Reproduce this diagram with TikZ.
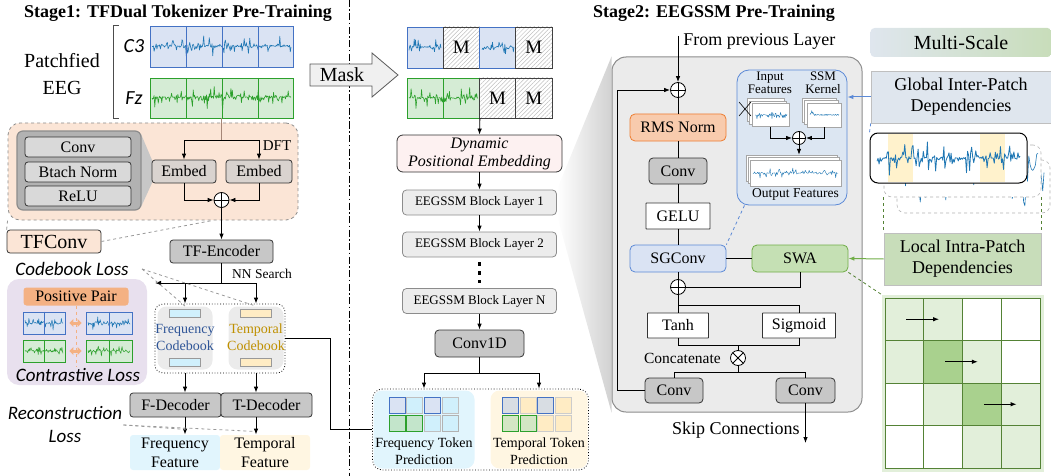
\documentclass[tikz,border=0pt]{standalone}
\usepackage{fontspec}
\setmainfont{Liberation Serif}
\setsansfont{Carlito}
\usetikzlibrary{arrows.meta, positioning, patterns.meta, calc, backgrounds}

\definecolor{sigblue}{RGB}{31,119,180}
\definecolor{siggreen}{RGB}{44,160,44}
\definecolor{chfill}{RGB}{218,227,243}
\definecolor{chline}{RGB}{68,114,196}
\definecolor{fzfill}{RGB}{213,236,213}
\definecolor{fzline}{RGB}{44,160,44}
\definecolor{peach}{RGB}{251,229,214}
\definecolor{lavender}{RGB}{232,224,238}
\definecolor{pairorange}{RGB}{244,177,131}
\definecolor{embedfill}{RGB}{217,211,207}
\definecolor{cbcyan}{RGB}{208,240,252}
\definecolor{cbtext}{RGB}{47,85,151}
\definecolor{cbgold}{RGB}{191,144,0}
\definecolor{cbyellow}{RGB}{255,236,196}
\definecolor{featcyan}{RGB}{225,245,253}
\definecolor{featyellow}{RGB}{255,246,226}
\definecolor{pefill}{RGB}{253,241,241}
\definecolor{layerfill}{RGB}{236,236,236}
\definecolor{panelfill}{RGB}{235,235,235}
\definecolor{rmsfill}{RGB}{248,203,173}
\definecolor{rmsline}{RGB}{237,125,49}
\definecolor{sgline}{RGB}{91,137,214}
\definecolor{swafill}{RGB}{197,224,180}
\definecolor{swaline}{RGB}{112,173,71}
\definecolor{ssmfill}{RGB}{220,230,242}
\definecolor{globalfill}{RGB}{223,230,238}
\definecolor{localfill}{RGB}{200,221,186}
\definecolor{cellpale}{RGB}{226,239,218}
\definecolor{cellmid}{RGB}{169,209,142}
\definecolor{cellline}{RGB}{84,130,53}
\definecolor{hilite}{RGB}{255,242,204}
\definecolor{dftline}{RGB}{165,135,120}
\definecolor{greencell}{RGB}{195,229,203}
\definecolor{graycell}{RGB}{216,221,227}
\definecolor{tgreen}{RGB}{211,230,196}

% noisy EEG trace: style, x from, x to, centre line, amplitude, samples
\newcommand{\eegtrace}[6]{%
  \draw[line width=0.6pt, line join=round, #1]
    plot[domain=#2:#3, samples=#6] (\x, {#4 + #5*rand*abs(rand*rand)});}

\begin{document}
\begin{tikzpicture}[
    x=1pt, y=-1pt,
    line width=0.8pt,
    >={Latex[length=6pt, width=4.5pt]},
    every node/.style={inner sep=1pt, align=center},
    box/.style={
      rectangle,
      draw=black!80,
      rounded corners=3pt,
      font=\fontsize{16}{19}\selectfont
    },
    graybox/.style={box, fill=black!22},
    layerbox/.style={box, draw=black!45, fill=layerfill, rounded corners=4pt,
      minimum width=154pt, minimum height=25pt, font=\fontsize{13}{15}\selectfont},
    patch/.style={rectangle, draw, inner sep=0pt},
    masked/.style={patch, draw=black!75, minimum width=36.25pt,
      pattern={Lines[angle=45, distance=3pt, line width=0.5pt]}, pattern color=black!25,
      font=\fontsize{19}{19}\selectfont},
    page/.style={draw=black!35, fill=white, line width=0.5pt, inner sep=0pt},
    oplus/.style={circle, draw, fill=white, minimum size=15pt, inner sep=0pt,
      path picture={\draw ([yshift=-8pt]path picture bounding box.center) -- ([yshift=8pt]path picture bounding box.center)
        ([xshift=-8pt]path picture bounding box.center) -- ([xshift=8pt]path picture bounding box.center);}},
    otimes/.style={circle, draw, fill=white, minimum size=15pt, inner sep=0pt,
      path picture={\draw ([shift={(-6pt,-6pt)}]path picture bounding box.center) -- ([shift={(6pt,6pt)}]path picture bounding box.center)
        ([shift={(-6pt,6pt)}]path picture bounding box.center) -- ([shift={(6pt,-6pt)}]path picture bounding box.center);}},
    losstext/.style={font=\sffamily\itshape\fontsize{19}{23}\selectfont},
    title/.style={font=\bfseries\fontsize{18}{20}\selectfont}
  ]
    \useasboundingbox (0,0) rectangle (1051,476);
    \pgfmathsetseed{42}

    % Titles and stage divider
    \node[title] (stageone) at (178,13) {Stage1: TFDual Tokenizer Pre-Training};
    \node[title] (stagetwo) at (714,13) {Stage2: EEGSSM Pre-Training};
    \draw[dash pattern=on 7pt off 2.5pt on 1.5pt off 2.5pt] (349,0) -- (349,476);

    % ---------------- Stage 1 ----------------
    % Patchfied input channels
    \node[font=\fontsize{20}{27}\selectfont] (peeg) at (62,74) {Patchfied\\EEG};
    \draw[black!70] (119,25) -- (113,25) -- (113,118) -- (119,118);
    \node[font=\sffamily\itshape\fontsize{20}{20}\selectfont] (lblc3) at (134,46) {C3};
    \node[font=\sffamily\itshape\fontsize{20}{20}\selectfont] (lblfz) at (134,98) {Fz};
    \node[patch, draw=chline, fill=chfill, minimum width=143pt, minimum height=41pt] (c3) at (221.5,46.5) {};
    \node[patch, draw=fzline, fill=fzfill, minimum width=143pt, minimum height=40pt] (fz) at (221.5,98) {};
    \eegtrace{sigblue}{152}{291}{46}{15}{200}
    \eegtrace{siggreen}{152}{291}{97}{15}{200}
    \foreach \px in {186,222,258} {
      \draw[chline] (\px,26) -- (\px,67);
      \draw[fzline] (\px,78) -- (\px,118);
    }

    % TFConv block
    \node[draw=black!45, dashed, fill=peach, rounded corners=12pt, minimum width=290pt, minimum height=97pt] (tfconvbg) at (153,171.5) {};
    \fill[black!22] (141,134) -- (152,160) -- (152,183) -- (141,207) -- cycle;
    \node[draw=black!45, fill=black!30, line width=1.2pt, rounded corners=6pt, minimum width=124pt, minimum height=79pt] (convstack) at (79,170.5) {};
    \node[box, fill=black!15, minimum width=106pt, minimum height=20pt] (cvconv) at (78,147) {Conv};
    \node[box, fill=black!15, minimum width=106pt, minimum height=20pt] (cvbn) at (78,172) {Btach Norm};
    \node[box, fill=black!15, minimum width=106pt, minimum height=20pt] (cvrelu) at (78,196) {ReLU};

    \node[box, fill=embedfill, minimum width=64pt, minimum height=23pt] (embt) at (184,171.5) {Embed};
    \node[box, fill=embedfill, minimum width=66pt, minimum height=23pt] (embf) at (259,171.5) {Embed};
    \coordinate (dftsplit) at (221.5,140);
    \draw[dftline] (fz.south) -- (dftsplit);
    \draw[->] (dftsplit) -| (embt.north);
    \draw[->] (dftsplit) -| (embf.north);
    \node[font=\fontsize{15}{15}\selectfont] (dft) at (277,146) {DFT};
    \node[oplus] (embsum) at (221.5,200) {};
    \draw[->] (embt.south) |- (embsum.west);
    \draw[->] (embf.south) |- (embsum.east);

    % Encoder
    \node[graybox, minimum width=103pt, minimum height=23pt] (tfenc) at (221.5,251.5) {TF-Encoder};
    \draw[->] (embsum.south) -- (tfenc.north);
    \node[box, fill=peach, font=\fontsize{20}{20}\selectfont, minimum width=94pt, minimum height=23pt] (tfconv) at (54,241.5) {TFConv};
    \draw[dashed, black!40] (tfconv.north west) -- (tfconvbg.south west);
    \draw[dashed, black!40] (tfconv.east) -- ($(tfconvbg.south)+(60,0)$);

    % Codebooks
    \coordinate (nnsplit) at (221.5,283);
    \coordinate (cblosstip) at (155,283);
    \draw (tfenc.south) -- (nnsplit);
    \draw[->] (nnsplit) -- (cblosstip);
    \node[font=\fontsize{13.5}{14}\selectfont] (nnsearch) at (262,274) {NN Search};
    \node[losstext] (cbloss) at (72,269) {Codebook Loss};

    \node[draw, dotted, rounded corners=8pt, minimum width=130pt, minimum height=69pt] (cbframe) at (220,338.5) {};
    \node[fill=black!8, rounded corners=9pt, minimum width=55pt, minimum height=63pt] (freqcb) at (185,338) {};
    \node[fill=black!8, rounded corners=9pt, minimum width=55pt, minimum height=63pt] (tempcb) at (256,338) {};
    \foreach \cy in {313,362} {
      \node[draw=black!40, fill=cbcyan, line width=0.5pt, minimum width=31pt, minimum height=8pt, inner sep=0pt] (fq\cy) at (185,\cy) {};
      \node[draw=black!40, fill=cbyellow, line width=0.5pt, minimum width=31pt, minimum height=8pt, inner sep=0pt] (tq\cy) at (256,\cy) {};
    }
    \node[text=cbtext, font=\fontsize{14}{17}\selectfont] (fqlabel) at (185,337) {Frequency\\Codebook};
    \node[text=cbgold, font=\fontsize{14}{17}\selectfont] (tqlabel) at (256,337) {Temporal\\Codebook};
    \draw[->] (nnsplit) -| (freqcb.north |- cbframe.north);
    \draw[->] (nnsplit) -| (tempcb.north |- cbframe.north);
    \draw[dashed, black!40] ($(cbloss.east)+(12,0)$) -- (freqcb.north);
    \draw[dashed, black!40] ($(cbloss.east)+(12,0)$) -- (tempcb.north);

    % Contrastive loss
    \node[fill=lavender, rounded corners=12pt, minimum width=140pt, minimum height=106pt] (ctrbg) at (77,332) {};
    \node[fill=pairorange, rounded corners=3pt, minimum width=105pt, minimum height=18pt, font=\fontsize{16}{16}\selectfont] (pospair) at (76,296.5) {Positive Pair};
    \node[patch, draw=chline, fill=chfill, minimum width=42pt, minimum height=22pt] (ancb) at (44,323) {};
    \node[patch, draw=chline, fill=chfill, minimum width=46pt, minimum height=22pt] (posb) at (109,323) {};
    \node[patch, draw=fzline, fill=fzfill, minimum width=42pt, minimum height=22pt] (ancg) at (44,351) {};
    \node[patch, draw=fzline, fill=fzfill, minimum width=46pt, minimum height=22pt] (posg) at (109,351) {};
    \eegtrace{sigblue, line width=0.5pt}{25}{63}{323}{9}{70}
    \eegtrace{sigblue, line width=0.5pt}{88}{130}{323}{9}{70}
    \eegtrace{siggreen, line width=0.5pt}{25}{63}{351}{9}{70}
    \eegtrace{siggreen, line width=0.5pt}{88}{130}{351}{9}{70}
    \foreach \n in {ancb,posb} \draw[chline] (\n.north) -- (\n.south);
    \foreach \n in {ancg,posg} \draw[fzline] (\n.north) -- (\n.south);
    \draw[dashed, pairorange] (pospair.south) -- ($(pospair.south |- ancg.south)+(0,4)$);
    \draw[pairorange, line width=3pt, {Triangle[length=4pt, width=8pt]}-{Triangle[length=4pt, width=8pt]},
      shorten <=4pt, shorten >=4pt] (ancb.east) -- (posb.west);
    \draw[pairorange, line width=3pt, {Triangle[length=4pt, width=8pt]}-{Triangle[length=4pt, width=8pt]},
      shorten <=4pt, shorten >=4pt] (ancg.east) -- (posg.west);
    \node[losstext] (ctrloss) at (78,375) {Contrastive Loss};

    % Decoders
    \node[graybox, minimum width=91pt, minimum height=24pt] (fdec) at (175.5,405) {F-Decoder};
    \node[graybox, minimum width=91pt, minimum height=24pt] (tdec) at (266.5,405) {T-Decoder};
    \draw[->] (freqcb.south |- cbframe.south) -- (freqcb.south |- fdec.north);
    \draw[->] (tempcb.south |- cbframe.south) -- (tempcb.south |- tdec.north);
    \node[fill=featcyan, rounded corners=3pt, minimum width=90pt, minimum height=35pt, font=\fontsize{16}{19}\selectfont] (freqfeat) at (175,452.5) {Frequency\\Feature};
    \node[fill=featyellow, rounded corners=3pt, minimum width=90pt, minimum height=35pt, font=\fontsize{16}{19}\selectfont] (tempfeat) at (265,452.5) {Temporal\\Feature};
    \draw[->] (freqcb.south |- fdec.south) -- (freqcb.south |- freqfeat.north);
    \draw[->] (tempcb.south |- tdec.south) -- (tempcb.south |- tempfeat.north);
    \node[losstext] (recloss) at (65,425) {Reconstruction\\Loss};
    \draw[dashed, black!40] (recloss.east) -- ($(fdec.south)+(10,12)$);
    \draw[dashed, black!40] (recloss.east) -- ($(tdec.south)+(-12,14)$);

    % ---------------- Masked modelling ----------------
    \filldraw[draw=black!65, fill=black!6] (310,64) -- (372,64) -- (372,53) -- (398,75) -- (372,97) -- (372,86) -- (310,86) -- cycle;
    \node[font=\fontsize{20}{20}\selectfont] (mask) at (342,75) {Mask};

    \node[patch, draw=chline, fill=chfill, minimum width=36.25pt, minimum height=41pt] (mc1) at (425.1,47.5) {};
    \node[masked, minimum height=41pt] (mc2) at (461.4,47.5) {M};
    \node[patch, draw=chline, fill=chfill, minimum width=36.25pt, minimum height=41pt] (mc3) at (497.6,47.5) {};
    \node[masked, minimum height=41pt] (mc4) at (533.9,47.5) {M};
    \node[patch, draw=fzline, fill=fzfill, minimum width=72.5pt, minimum height=40pt] (mf12) at (443.25,98) {};
    \node[masked, minimum height=40pt] (mf3) at (497.6,98) {M};
    \node[masked, minimum height=40pt] (mf4) at (533.9,98) {M};
    \eegtrace{sigblue}{409}{441}{47}{15}{50}
    \eegtrace{sigblue}{482}{514}{47}{15}{50}
    \eegtrace{siggreen}{409}{478}{98}{15}{100}
    \draw[fzline] (mf12.north) -- (mf12.south);

    \node[box, fill=pefill, rounded corners=6pt, minimum width=165pt, minimum height=37pt,
      font=\itshape\fontsize{16}{18}\selectfont] (dpe) at (479.5,153.5) {Dynamic\\Positional Embedding};
    \node[layerbox] (layer1) at (479.5,202.5) {EEGSSM Block Layer 1};
    \node[layerbox] (layer2) at (479.5,244.5) {EEGSSM Block Layer 2};
    \node[layerbox] (layerN) at (479.5,301) {EEGSSM Block Layer N};
    \node[graybox, rounded corners=4pt, minimum width=89pt, minimum height=27pt] (conv1d) at (479.5,343.5) {Conv1D};
    \draw[->] (mf12.south east) -- (dpe.north);
    \draw[->] (dpe.south) -- (layer1.north);
    \draw[->] (layer1.south) -- (layer2.north);
    \draw[line width=3.5pt, dash pattern=on 3.5pt off 5.5pt, shorten <=5pt, shorten >=5pt] (layer2.south) -- (layerN.north);
    \draw[->] (layerN.south) -- (conv1d.north);

    % Token prediction heads
    \node[draw, dotted, rounded corners=10pt, minimum width=216pt, minimum height=81pt] (predframe) at (480.5,429.5) {};
    \node[fill=featcyan, rounded corners=9pt, minimum width=101pt, minimum height=78pt] (ftp) at (424,429.5) {};
    \node[fill=featyellow, rounded corners=9pt, minimum width=97pt, minimum height=78pt] (ttp) at (539,429.5) {};
    \coordinate (predsplit) at (479.5,373);
    \draw (conv1d.south) -- (predsplit);
    \draw[->] (predsplit) -| (ftp.north |- predframe.north);
    \draw[->] (predsplit) -| (ttp.north |- predframe.north);
    \foreach \c/\r/\fc/\dc in {0/0/chfill/chline, 1/0/cbcyan/black!25, 2/0/chfill/chline, 3/0/cbcyan/black!25,
        0/1/greencell/fzline, 1/1/greencell/fzline, 2/1/cbcyan/black!25, 3/1/cbcyan/black!30}
      \node[patch, fill=\fc, draw=\dc, minimum size=16pt] (fcell\c\r) at ({397+17.7*\c},{405.5+17.7*\r}) {};
    \foreach \c/\r/\fc/\dc in {0/0/graycell/chline, 1/0/cbyellow/black!20, 2/0/graycell/chline, 3/0/cbyellow/black!20,
        0/1/tgreen/fzline, 1/1/tgreen/fzline, 2/1/cbyellow/black!20, 3/1/cbyellow/black!20}
      \node[patch, fill=\fc, draw=\dc, minimum size=16pt] (tcell\c\r) at ({510.3+17.7*\c},{405.5+17.7*\r}) {};
    \node[font=\fontsize{14}{17}\selectfont] (ftplabel) at (424,451) {Frequency Token\\Prediction};
    \node[font=\fontsize{14}{17}\selectfont] (ttplabel) at (539,451) {Temporal Token\\Prediction};
    \draw (cbframe.east) -- ++(45,0) |- (predframe.west);

    % ---------------- Stage 2: EEGSSM block ----------------
    \node[draw=black!45, fill=panelfill, line width=1pt, rounded corners=14pt, minimum width=250pt, minimum height=355pt] (panel) at (737,234.5) {};
    \begin{scope}[on background layer]
      \shade[left color=white, right color=black!18] (layer1.north east) -- (panel.north west) -- (panel.south west) -- (layer1.south east) -- cycle;
    \end{scope}

    \coordinate (fromprev) at (678,36);
    \node[font=\fontsize{18}{18}\selectfont, anchor=west] (prevlbl) at (682,41) {From previous Layer};
    \node[oplus] (resadd) at (678,90) {};
    \draw[->] (fromprev) -- (resadd.north);
    \node[box, draw=rmsline, fill=rmsfill, rounded corners=5pt, minimum width=96pt, minimum height=27pt] (rms) at (678,127.5) {RMS Norm};
    \node[graybox, rounded corners=4pt, minimum width=58pt, minimum height=26pt] (sconv) at (678,171) {Conv};
    \node[box, fill=white, rounded corners=0.5pt, minimum width=64pt, minimum height=26pt] (gelu) at (678,216) {GELU};
    \node[box, draw=sgline, fill=chfill, rounded corners=5pt, minimum width=96pt, minimum height=27pt] (sgconv) at (678,258.5) {SGConv};
    \node[box, draw=swaline, fill=swafill, rounded corners=5pt, minimum width=96pt, minimum height=27pt] (swa) at (800,258.5) {SWA};
    \node[oplus] (gateadd) at (678,287) {};
    \node[box, fill=white, rounded corners=0.5pt, minimum width=61pt, minimum height=25pt] (tanh) at (678,325.5) {Tanh};
    \node[box, fill=white, rounded corners=0.5pt, minimum width=73pt, minimum height=25pt] (sigm) at (799,325.5) {Sigmoid};
    \node[otimes] (gatemul) at (738,358) {};
    \node[font=\fontsize{15.5}{16}\selectfont, left=8pt of gatemul] (concat) {Concatenate};
    \node[graybox, rounded corners=4pt, minimum width=58pt, minimum height=25pt] (resconv) at (674,390.5) {Conv};
    \node[graybox, rounded corners=4pt, minimum width=59pt, minimum height=25pt] (skipconv) at (805.5,390.5) {Conv};

    \draw (resadd.south) -- (rms.north);
    \draw (rms.south) -- (sconv.north);
    \draw (sconv.south) -- (gelu.north);
    \draw (gelu.south) -- (sgconv.north);
    \draw (sgconv.east) -- (swa.west);
    \draw (sgconv.south) -- (gateadd.north);
    \draw (swa.south) |- (gateadd.east);
    \coordinate (gatesplit) at (678,305);
    \draw (gateadd.south) -- (gatesplit);
    \draw (gatesplit) -- (tanh.north);
    \draw (gatesplit) -| (sigm.north);
    \coordinate (gatejoin) at (738,345);
    \draw (tanh.south) |- (gatejoin);
    \draw (sigm.south) |- (gatejoin);
    \draw (gatejoin) -- (gatemul.north);
    \coordinate (convsplit) at (738,372);
    \draw (gatemul.south) -- (convsplit);
    \draw (convsplit) -| (resconv.north);
    \draw (convsplit) -| (skipconv.north);
    \draw[->] (resconv.west) -- ++(-27,0) |- (resadd.west);
    \coordinate (skipout) at (805.5,443);
    \draw[->] (skipconv.south) -- (skipout);
    \node[font=\fontsize{18}{18}\selectfont, anchor=east] (skiplbl) at (801,430) {Skip Connections};

    % SSM convolution inset
    \node[draw=sgline, fill=ssmfill, rounded corners=12pt, minimum width=110pt, minimum height=135pt] (ssm) at (792,137.5) {};
    \node[font=\fontsize{13}{12.5}\selectfont] (inlbl) at (770,83) {Input\\Features};
    \node[font=\fontsize{13}{12.5}\selectfont] (kerlbl) at (823,83) {SSM\\Kernel};
    \node[page, minimum width=37pt, minimum height=23pt] (inC) at (765.5,110) {};
    \node[page, minimum width=37pt, minimum height=23pt] (inB) at (768,112.5) {};
    \node[page, minimum width=37pt, minimum height=23pt] (inA) at (770.5,115) {};
    \node[page, minimum width=34pt, minimum height=24pt] (kerC) at (819,110) {};
    \node[page, minimum width=34pt, minimum height=24pt] (kerB) at (821.5,112.5) {};
    \node[page, minimum width=34pt, minimum height=24pt] (kerA) at (824,115) {};
    \eegtrace{sigblue, line width=0.4pt}{755}{787}{115}{10}{50}
    \draw[sigblue, line width=0.4pt] plot[domain=810:839, samples=50] (\x, {115 + 9*exp(-(\x-810)/2.5)*rand + 0.6*rand});
    \draw[line width=0.6pt] (739,102) -- (751,116) (739,116) -- (751,102);
    \node[oplus, minimum size=13pt] (ssmadd) at (799,138) {};
    \draw[->] (inA.south) |- (ssmadd.west);
    \draw[->] (kerA.south) |- (ssmadd.east);
    \node[page, minimum width=91pt, minimum height=26pt] (outC) at (791.5,168) {};
    \node[page, minimum width=91pt, minimum height=26pt] (outB) at (793.5,170.5) {};
    \node[page, minimum width=91pt, minimum height=26pt] (outA) at (795.5,173) {};
    \eegtrace{sigblue, line width=0.4pt}{753}{838}{173}{11}{110}
    \draw[->] (ssmadd.south) -- (ssmadd.south |- outC.north);
    \node[font=\fontsize{13.5}{14}\selectfont, below=1pt of outA] (outlbl) {Output Features};
    \draw[dashed, sgline] (ssm.235) -- (sgconv.north east);

    % ---------------- Multi-scale dependencies ----------------
    \node[left color=globalfill, right color=localfill, rounded corners=4pt, minimum width=181pt, minimum height=29pt,
      font=\fontsize{20}{20}\selectfont] (multiscale) at (961,42.5) {Multi-Scale};
    \node[fill=globalfill, draw=black!25, line width=0.6pt, minimum width=180pt, minimum height=52pt,
      font=\fontsize{18}{21}\selectfont] (global) at (961,97) {Global Inter-Patch\\Dependencies};
    \draw[->, sgline, line width=1pt] (global.west) -- (ssm.east |- global.west);

    % stacked EEG windows
    \node[draw=black!30, dashed, line width=0.6pt, rounded corners=8pt, fill=white, minimum width=153pt, minimum height=53pt] (wave3) at (973.5,186.5) {};
    \eegtrace{sigblue}{905}{1044}{180}{48}{110}
    \node[draw=black!30, dashed, line width=0.6pt, rounded corners=8pt, fill=white, minimum width=157pt, minimum height=52pt] (wave2) at (962.5,171) {};
    \eegtrace{sigblue}{895}{1038}{164}{48}{110}
    \node[draw=black, line width=1pt, rounded corners=8pt, fill=white, minimum width=157pt, minimum height=50pt] (wave1) at (948.5,158) {};
    \fill[hilite] (888,134) rectangle (913,182);
    \fill[hilite] (980,134) rectangle (1005,182);
    \eegtrace{sigblue, line width=0.8pt}{877}{1020}{158}{24}{140}
    \draw[dashed, sgline] (global.south west) -- (wave1.north west);

    \node[fill=localfill, draw=black!25, line width=0.6pt, minimum width=157pt, minimum height=52pt,
      font=\fontsize{18}{21}\selectfont] (local) at (962.5,259) {Local Intra-Patch\\Dependencies};
    \draw[dashed, cellline] (wave2.south west) -- (local.north west);
    \draw[dashed, cellline] (wave2.south east) -- (local.north east);
    \draw[->, swaline, line width=1pt] (local.west) -- (swa.east);

    % sliding window grid
    \node[draw=cellpale, line width=3pt, minimum width=159pt, minimum height=174pt, inner sep=0pt] (gridframe) at (962.5,383) {};
    \foreach \r/\rowfills in {1/{cellpale,cellpale,white,white}, 2/{cellpale,cellmid,cellpale,white},
        3/{white,cellpale,cellmid,cellpale}, 4/{white,white,cellpale,cellpale}}
      \foreach \fc [count=\c] in \rowfills
        \node[draw=cellline, fill=\fc, minimum width=38.75pt, minimum height=42.5pt, inner sep=0pt]
          (cell-\r-\c) at ({885+38.75*(\c-0.5)},{298+42.5*(\r-0.5)}) {};
    \draw[->, line width=1pt, shorten <=2pt, shorten >=4pt] (cell-1-1.center) -- (cell-1-2.center);
    \draw[->, line width=1pt, shorten <=2pt, shorten >=4pt] (cell-2-2.center) -- (cell-2-3.center);
    \draw[->, line width=1pt, shorten <=2pt, shorten >=4pt] (cell-3-3.center) -- (cell-3-4.center);
    \draw[dashed, cellline] (swa.south east) -- (gridframe.north west);

  \end{tikzpicture}
\end{document}
